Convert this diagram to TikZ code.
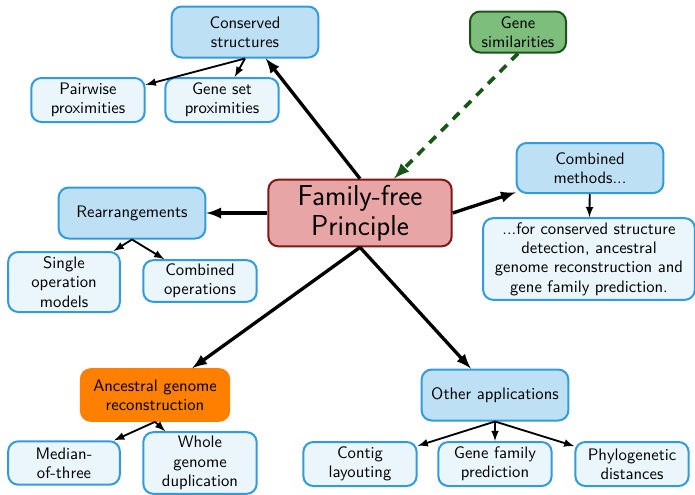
\documentclass[tikz,border=0pt]{standalone}
\usetikzlibrary{arrows}

\definecolor{topicfill}{RGB}{190,224,245}
\definecolor{leaffill}{RGB}{234,245,252}
\definecolor{boxline}{RGB}{50,155,220}
\definecolor{simfill}{RGB}{125,190,125}
\definecolor{simline}{RGB}{25,85,25}
\definecolor{ffill}{RGB}{232,165,165}
\definecolor{ffline}{RGB}{125,25,25}
\definecolor{ancfill}{RGB}{255,128,0}

\tikzset{
  topic/.style={draw=boxline, fill=topicfill, line width=1.2pt, rounded corners=6pt,
    align=center, font=\sffamily\fontsize{10}{11.6}\selectfont, inner sep=1pt},
  leaf/.style={topic, fill=leaffill},
  mainarrow/.style={-latex, line width=2pt},
  subarrow/.style={-latex, line width=1.1pt},
}

\begin{document}
\begin{tikzpicture}[x=0.6pt,y=-0.6pt]
  \useasboundingbox (0,0) rectangle (695,494);

  % centre
  \node[topic, draw=ffline, fill=ffill, minimum width=110pt, minimum height=40pt,
    font=\sffamily\fontsize{17.28}{18}\selectfont] (ff) at (360,213) {Family-free\\Principle};

  % conserved structures
  \node[topic, minimum width=88pt, minimum height=30.6pt] (cons) at (245,32) {Conserved\\structures};
  \node[leaf, minimum width=68pt, minimum height=26.4pt] (pair) at (88,100) {Pairwise\\proximities};
  \node[leaf, minimum width=68pt, minimum height=26.4pt] (gset) at (222,100) {Gene set\\proximities};

  % gene similarities
  \node[topic, draw=simline, fill=simfill, minimum width=57.6pt, minimum height=24.6pt] (sim) at (518,32) {Gene\\similarities};

  % combined methods
  \node[topic, minimum width=88pt, minimum height=30pt] (comb) at (590,168) {Combined\\methods...};
  \node[leaf, minimum width=127pt, minimum height=49pt] (detect) at (589,259)
    {...for conserved structure\\detection, ancestral\\genome reconstruction and\\gene family prediction.};

  % rearrangements
  \node[topic, minimum width=88pt, minimum height=30.6pt] (rear) at (132,213) {Rearrangements};
  \node[leaf, minimum width=67pt, minimum height=36pt] (single) at (64,282) {Single\\operation\\models};
  \node[leaf, minimum width=68pt, minimum height=25pt] (combop) at (200,281) {Combined\\operations};

  % ancestral genome reconstruction
  \node[topic, draw=ancfill, fill=ancfill, minimum width=89pt, minimum height=31pt] (anc) at (155,395) {Ancestral genome\\reconstruction};
  \node[leaf, minimum width=67pt, minimum height=26pt] (med) at (64,463) {Median-\\of-three};
  \node[leaf, minimum width=68pt, minimum height=37pt] (wgd) at (200,463) {Whole\\genome\\duplication};

  % other applications
  \node[topic, minimum width=88pt, minimum height=30.6pt] (other) at (495,395) {Other applications};
  \node[leaf, minimum width=68pt, minimum height=26.4pt] (contig) at (360,464) {Contig\\layouting};
  \node[leaf, minimum width=68pt, minimum height=26.4pt] (gfam) at (495,464) {Gene family\\prediction};
  \node[leaf, minimum width=68pt, minimum height=26.4pt] (phylo) at (632,464) {Phylogenetic\\distances};

  % main arrows
  \draw[mainarrow] (ff.north) -- (cons);
  \draw[mainarrow] (ff) -- (rear);
  \draw[mainarrow] (ff.east) -- (comb);
  \draw[mainarrow] (ff.south) -- (anc);
  \draw[mainarrow] (ff.south) -- (other);
  \draw[-latex, line width=2.2pt, simline, dash pattern=on 5.5pt off 4.5pt] (sim.south) -- (ff);

  % sub arrows
  \draw[subarrow] (cons.south) -- (pair);
  \draw[subarrow] (cons.south) -- (gset);
  \draw[subarrow] (comb) -- (detect);
  \draw[subarrow] (rear.south) -- (single);
  \draw[subarrow] (rear.south) -- (combop);
  \draw[subarrow] (anc.south) -- (med);
  \draw[subarrow] (anc.south) -- (wgd);
  \draw[subarrow] (other.south) -- (contig);
  \draw[subarrow] (other.south) -- (gfam);
  \draw[subarrow] (other.south) -- (phylo);
\end{tikzpicture}
\end{document}
